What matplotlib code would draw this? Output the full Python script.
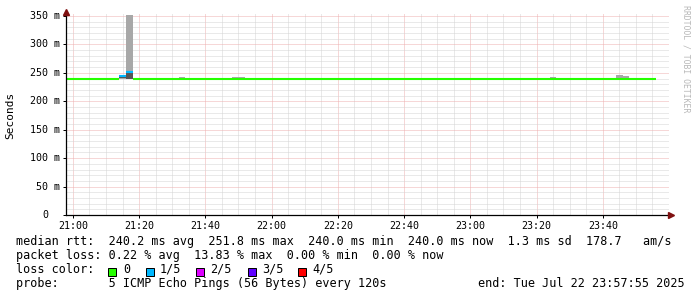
import numpy as np
import matplotlib
matplotlib.use("Agg")
import matplotlib.pyplot as plt
from matplotlib.patches import Rectangle
from matplotlib.transforms import offset_copy

# smokeping style latency graph, 3 hours, 120 s steps starting 20:56
start_min = 20 * 60 + 56
step_min = 2

median_ms = [
    240.0, 240.0, 240.0, 240.0, 240.0, 240.0, 240.0, 240.0, 240.0, 245.0,
    251.8, 240.0, 240.0, 240.0, 240.0, 240.0, 240.0, 240.0, 240.0, 240.0,
    240.0, 240.0, 240.0, 240.0, 240.0, 240.0, 240.0, 240.0, 240.0, 240.0,
    240.0, 240.0, 240.0, 240.0, 240.0, 240.0, 240.0, 240.0, 240.0, 240.0,
    240.0, 240.0, 240.0, 240.0, 240.0, 240.0, 240.0, 240.0, 240.0, 240.0,
    240.0, 240.0, 240.0, 240.0, 240.0, 240.0, 240.0, 240.0, 240.0, 240.0,
    240.0, 240.0, 240.0, 240.0, 240.0, 240.0, 240.0, 240.0, 240.0, 240.0,
    240.0, 240.0, 240.0, 240.0, 240.0, 240.0, 240.0, 240.0, 240.0, 240.0,
    240.0, 240.0, 240.0, 240.0, 240.0, 240.0, 240.0, 240.0, 240.0, 240.0,
]
loss = [
    0, 0, 0, 0, 0, 0, 0, 0, 0, 1,
    1, 0, 0, 0, 0, 0, 0, 0, 0, 0,
    0, 0, 0, 0, 0, 0, 0, 0, 0, 0,
    0, 0, 0, 0, 0, 0, 0, 0, 0, 0,
    0, 0, 0, 0, 0, 0, 0, 0, 0, 0,
    0, 0, 0, 0, 0, 0, 0, 0, 0, 0,
    0, 0, 0, 0, 0, 0, 0, 0, 0, 0,
    0, 0, 0, 0, 0, 0, 0, 0, 0, 0,
    0, 0, 0, 0, 0, 0, 0, 0, 0, 0,
]

# smoke (spread of the pings) where it shows above the median line
smoke_time = ["21:14", "21:16", "21:32", "21:48", "21:50", "23:24", "23:44", "23:46"]
smoke_lo = [240.0, 240.0, 240.0, 240.0, 240.0, 240.0, 240.0, 240.0]
smoke_hi = [247.0, 351.0, 243.0, 243.0, 243.0, 243.0, 246.0, 244.0]
dark_lo = [241.0, 240.0, 0, 0, 0, 0, 0, 0]
dark_hi = [247.0, 253.0, 0, 0, 0, 0, 0, 0]

loss_labels = ["0", "1/5", "2/5", "3/5", "4/5"]
loss_colors = ["#26ff00", "#00b8ff", "#dd00ff", "#5e00ff", "#ff0000"]

y_ticks = [0, 0.05, 0.10, 0.15, 0.20, 0.25, 0.30, 0.35]
y_labels = ["0", "50 m", "100 m", "150 m", "200 m", "250 m", "300 m", "350 m"]
x_labels = ["21:00", "21:20", "21:40", "22:00", "22:20", "22:40", "23:00", "23:20", "23:40"]

line1 = "median rtt:  240.2 ms avg  251.8 ms max  240.0 ms min  240.0 ms now  1.3 ms sd  178.7   am/s"
line2 = "packet loss: 0.22 % avg  13.83 % max  0.00 % min  0.00 % now"
line4 = "probe:       5 ICMP Echo Pings (56 Bytes) every 120s"
end_txt = "end: Tue Jul 22 23:57:55 2025"

mono = "DejaVu Sans Mono"
W, H = 697, 297

def fx(px):
    return px / W

def fy(py):
    return 1 - py / H

def to_min(s):
    h, m = s.split(":")
    return int(h) * 60 + int(m)

fig = plt.figure(figsize=(W / 100, H / 100), dpi=100)
ax = fig.add_axes([fx(66), fy(215), fx(669) - fx(66), fy(14) - fy(215)])

t = start_min + step_min * np.arange(len(median_ms))
med = np.array(median_ms) / 1000

# smoke
for ts, lo, hi, dlo, dhi in zip(smoke_time, smoke_lo, smoke_hi, dark_lo, dark_hi):
    x = to_min(ts)
    ax.bar(x, (hi - lo) / 1000, bottom=lo / 1000, width=step_min, align="edge",
           color="#a8a8a8", lw=0, zorder=3)
    if dhi > 0:
        ax.bar(x, (dhi - dlo) / 1000, bottom=dlo / 1000, width=step_min, align="edge",
               color="#555555", lw=0, zorder=3)

# median coloured by loss
cols = [loss_colors[l] for l in loss]
ax.hlines(med, t, t + step_min, colors=cols, lw=1.5, zorder=4)

x_end = to_min("23:57") + 55 / 60
x_start = x_end - 180
ax.set_xlim(x_start, x_start + 603 / 3.333)
ax.set_ylim(0, 0.3535)

x_ticks = [to_min(s) for s in x_labels]
ax.set_xticks(x_ticks)
ax.set_xticklabels(x_labels, family=mono, fontsize=7.2)
ax.set_xticks(np.arange(to_min("21:00"), x_start + 185, 5), minor=True)
ax.set_yticks(y_ticks)
ax.set_yticklabels([])
ax.set_yticks(np.arange(0, 0.351, 0.01), minor=True)

ax.grid(which="minor", color="#d4d4d4", ls=(0, (1, 1)), lw=0.72, zorder=1)
ax.grid(which="major", color="#eeb0b0", ls=(0, (1, 1)), lw=0.72, zorder=2)
ax.tick_params(which="major", length=2, width=0.72, pad=2.5)
ax.tick_params(which="minor", length=0)

for side in ["top", "right"]:
    ax.spines[side].set_visible(False)
for side in ["left", "bottom"]:
    ax.spines[side].set_linewidth(0.9)
    ax.spines[side].set_zorder(5)

# y labels, right aligned, "0" sits two characters further left
ytr = ax.get_yaxis_transform()
for v, lab in zip(y_ticks, y_labels):
    shift = 5.7 if " " in lab else 5.7 + 12.1
    ax.text(0, v, lab, transform=offset_copy(ytr, fig, x=-shift, units="dots"),
            ha="right", va="center", family=mono, fontsize=7.2)

# arrows at the ends of the axes
ax.plot([0], [1.012], marker="^", ms=4, color="#7f1010", transform=ax.transAxes,
        clip_on=False, zorder=6)
ax.plot([1.004], [0], marker=">", ms=4, color="#7f1010", transform=ax.transAxes,
        clip_on=False, zorder=6)

fig.text(fx(10.5), fy(115), "Seconds", rotation=90, ha="center", va="center",
         family=mono, fontsize=8)
fig.text(fx(686), fy(5), "RRDTOOL / TOBI OETIKER", rotation=270, ha="center", va="top",
         family=mono, fontsize=5.9, color="#b8b8b8")

fs = 8.5
fig.text(fx(16), fy(244.7), line1, family=mono, fontsize=fs, va="baseline")
fig.text(fx(16), fy(258.8), line2, family=mono, fontsize=fs, va="baseline")
fig.text(fx(16), fy(272.9), "loss color:", family=mono, fontsize=fs, va="baseline")
box_x = [108.3, 145.7, 196.0, 247.7, 298.3]
lab_x = [123.3, 160.0, 210.0, 261.7, 312.7]
for bx, lx, lab, c in zip(box_x, lab_x, loss_labels, loss_colors):
    fig.patches.append(Rectangle((fx(bx), fy(275.7)), 8 / W, 8 / H, transform=fig.transFigure,
                                 facecolor=c, edgecolor="black", lw=0.72))
    fig.text(fx(lx), fy(272.9), lab, family=mono, fontsize=fs, va="baseline")
fig.text(fx(16), fy(287), line4, family=mono, fontsize=fs, va="baseline")
fig.text(fx(478.3), fy(287), end_txt, family=mono, fontsize=fs, va="baseline")

fig.savefig("out.png", dpi=100)
